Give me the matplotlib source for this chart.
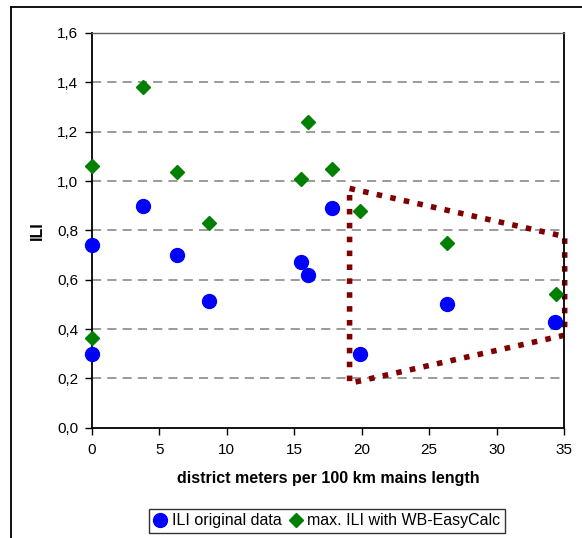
import matplotlib.pyplot as plt
from matplotlib.lines import Line2D
from matplotlib.ticker import FuncFormatter, MultipleLocator

plt.rcParams['font.family'] = ['Liberation Sans', 'DejaVu Sans']

# ILI original data
orig_x = [0, 0, 3.75, 6.3, 8.7, 15.5, 16.05, 17.8, 19.85, 26.3, 34.35]
orig_y = [0.74, 0.30, 0.90, 0.70, 0.515, 0.67, 0.62, 0.89, 0.30, 0.50, 0.43]

# max. ILI with WB-EasyCalc
max_x = [0, 0, 3.75, 6.3, 8.7, 15.5, 16.05, 17.8, 19.85, 26.3, 34.4]
max_y = [1.06, 0.365, 1.38, 1.035, 0.83, 1.01, 1.24, 1.05, 0.88, 0.75, 0.54]

# dotted outline drawn on the chart
outline_x = [19.1, 35.05, 35.05, 19.1, 19.1]
outline_y = [0.97, 0.775, 0.375, 0.18, 0.97]

fig = plt.figure(figsize=(5.82, 5.38), dpi=100)
ax = fig.add_axes([92 / 582, 1 - 427.7 / 538, 472 / 582, 394.7 / 538])

ax.set_xlim(0, 35)
ax.set_ylim(0, 1.6)
ax.xaxis.set_major_locator(MultipleLocator(5))
ax.yaxis.set_major_locator(MultipleLocator(0.2))
ax.yaxis.set_major_formatter(FuncFormatter(lambda v, p: f'{v:.1f}'.replace('.', ',')))

for y in [0.2, 0.4, 0.6, 0.8, 1.0, 1.2, 1.4, 1.6]:
	ax.axhline(y, color='#808080', lw=1.1, ls=(0, (6, 4)), zorder=1)

ax.plot(outline_x, outline_y, color='#800000', lw=4, ls=(0, (1, 1.5)),
	dash_capstyle='butt', clip_on=False, zorder=2)

ax.plot(orig_x, orig_y, 'o', color='#0000ff', ms=10, mec='#0000ff', clip_on=False, zorder=4,
	label='ILI original data')
ax.plot(max_x, max_y, 'D', color='#008000', ms=7, mec='#008000', clip_on=False, zorder=3,
	label='max. ILI with WB-EasyCalc')

for s in ['left', 'bottom', 'right']:
	ax.spines[s].set_color('black')
	ax.spines[s].set_linewidth(1.3)
ax.spines['top'].set_color('#606060')
ax.spines['top'].set_linewidth(1.0)

ax.tick_params(axis='both', direction='out', length=5, width=1, labelsize=11, color='black')
ax.tick_params(axis='x', pad=6)
ax.tick_params(axis='y', pad=5)

ax.set_xlabel('district meters per 100 km mains length', fontsize=11.5, fontweight='bold', labelpad=10)
ax.set_ylabel('ILI', fontsize=11.5, fontweight='bold', labelpad=9)

leg = fig.legend(loc='center', bbox_to_anchor=(327 / 582, 1 - 521 / 538), ncol=2,
	fontsize=11.5, frameon=True, fancybox=False, handlelength=0.8, handletextpad=0.3,
	columnspacing=0.5, borderpad=0.3)
leg.get_frame().set_edgecolor('black')
leg.get_frame().set_linewidth(1.0)

# outer chart border (only top and left visible)
fig.add_artist(Line2D([11 / 582, 11 / 582], [0, 1 - 7 / 538], color='black', lw=1.3,
	transform=fig.transFigure))
fig.add_artist(Line2D([11 / 582, 1], [1 - 7 / 538, 1 - 7 / 538], color='black', lw=1.3,
	transform=fig.transFigure))

fig.savefig('out.png', dpi=100)
